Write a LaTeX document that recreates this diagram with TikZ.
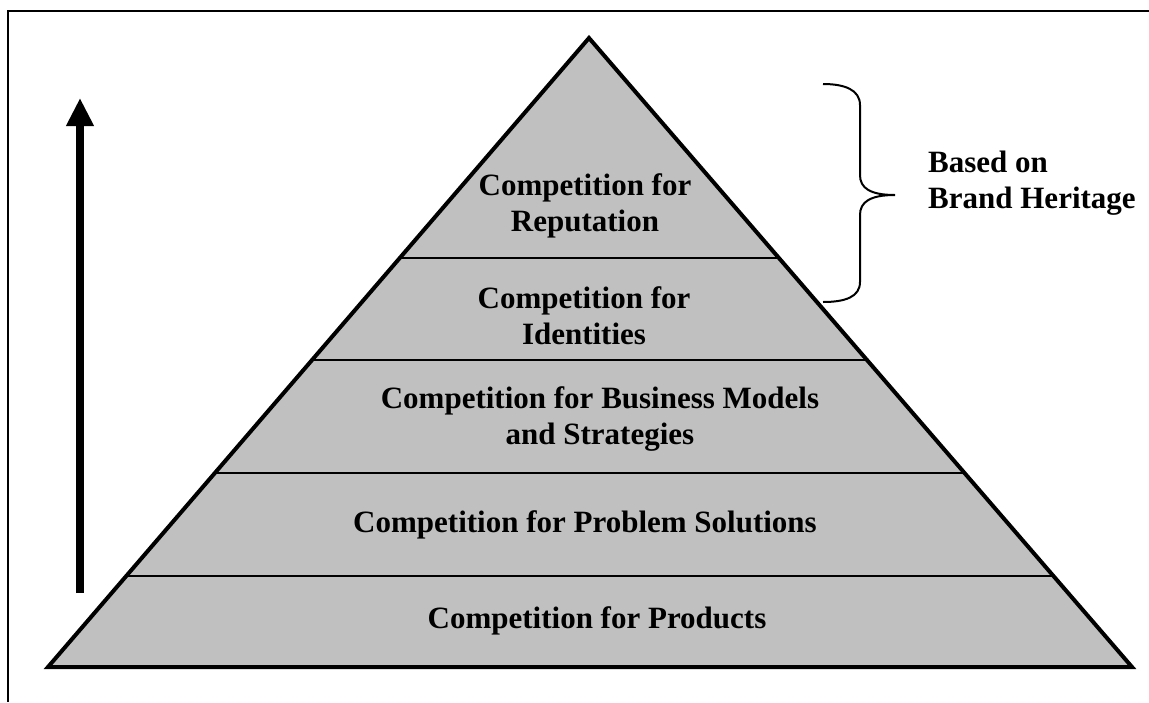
\documentclass[tikz,border=0pt]{standalone}
\usepackage{fontspec}
\setmainfont{Liberation Serif}
\usetikzlibrary{calc,arrows.meta}
\definecolor{pyrgray}{RGB}{192,192,192}
\begin{document}
\begin{tikzpicture}[x=1pt,y=-1pt]
    \tikzstyle{level}=[align=center,inner sep=0pt,font=\bfseries\fontsize{31}{36}\selectfont];
    \useasboundingbox (0,0) rectangle (1149,702);
    % frame
    \draw[line width=2pt] (1149,11) -- (8,11) -- (8,702);

    \coordinate (apex) at (589,38);
    \coordinate (bl) at (48,667);
    \coordinate (br) at (1132,667);
    \filldraw[fill=pyrgray,line width=4pt,line join=miter] (apex) -- (bl) -- (br) -- cycle;

    \foreach \t/\n in {0.3498/1,0.5119/2,0.6916/3,0.8553/4}{
        \draw[line width=1.5pt] ($(apex)!\t!(bl)$) -- ($(apex)!\t!(br)$);
    }

    \node (l1) [level] at (597,621) {Competition for Products};
    \node (l2) [level] at (585,525) {Competition for Problem Solutions};
    \node (l3) [level] at (600,419) {Competition for Business Models\\and Strategies};
    \node (l4) [level] at (584,316) {Competition for\\Identities};
    \node (l5) [level] at (585,206) {Competition for\\Reputation};

    % arrow
    \coordinate (a0) at (80,593);
    \coordinate (a1) at (80,98);
    \draw[line width=8pt,-{Triangle[width=26pt,length=28pt]}] (a0) -- (a1);

    % brace
    \coordinate (b0) at (823,84);
    \coordinate (b1) at (895,195);
    \coordinate (b2) at (823,302);
    \draw[line width=2pt] (b0) .. controls (845,84) and (860,90) .. (860,105) -- (860,175)
        .. controls (860,188) and (870,195) .. (b1)
        .. controls (870,195) and (860,202) .. (860,215) -- (860,282)
        .. controls (860,297) and (845,302) .. (b2);
    \node (brand) [level,anchor=west,align=left] at (928,183) {Based on\\Brand Heritage};
\end{tikzpicture}
\end{document}
